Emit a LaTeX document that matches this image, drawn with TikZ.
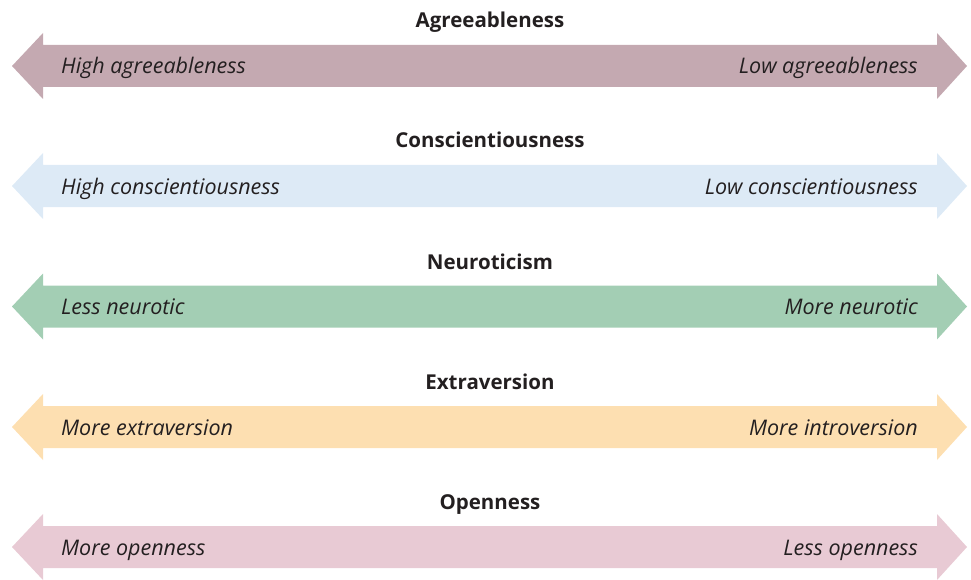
\documentclass[tikz,border=0pt]{standalone}
\usepackage{fontspec}
\setmainfont{Open Sans}
\definecolor{agreec}{HTML}{C4A9B1}
\definecolor{consc}{HTML}{DDEAF6}
\definecolor{neuroc}{HTML}{A3CEB4}
\definecolor{extrac}{HTML}{FDDFB1}
\definecolor{openc}{HTML}{E8CAD4}
\definecolor{txt}{HTML}{231F20}
\tikzset{
  titlelbl/.style={font=\fontsize{20.5}{24}\selectfont\bfseries, text=txt, inner sep=0pt, anchor=base},
  leftlbl/.style={font=\fontsize{21.5}{26}\selectfont\itshape, text=txt, inner sep=0pt, anchor=base west},
  rightlbl/.style={font=\fontsize{21.5}{26}\selectfont\itshape, text=txt, inner sep=0pt, anchor=base east},
}
\newcommand{\twowayarrow}[2]{%
  \fill[#1] (12,#2) -- (43,#2-33) -- (43,#2-21) -- (937,#2-21) -- (937,#2-33) -- (967,#2)
    -- (937,#2+33) -- (937,#2+21) -- (43,#2+21) -- (43,#2+33) -- cycle;}
\begin{document}
\begin{tikzpicture}[x=1pt,y=-1pt]
\useasboundingbox (0,0) rectangle (971,580);
\twowayarrow{agreec}{66}
\twowayarrow{consc}{186}
\twowayarrow{neuroc}{306.5}
\twowayarrow{extrac}{427}
\twowayarrow{openc}{547}
\node[titlelbl] (t1) at (490,28) {Agreeableness};
\node[titlelbl] (t2) at (490,148) {Conscientiousness};
\node[titlelbl] (t3) at (490,269) {Neuroticism};
\node[titlelbl] (t4) at (490,389) {Extraversion};
\node[titlelbl] (t5) at (490,509) {Openness};
\node[leftlbl] (l1) at (61,74) {High agreeableness};
\node[rightlbl] (r1) at (918,74) {Low agreeableness};
\node[leftlbl] (l2) at (61,194) {High conscientiousness};
\node[rightlbl] (r2) at (918,194) {Low conscientiousness};
\node[leftlbl] (l3) at (61,314) {Less neurotic};
\node[rightlbl] (r3) at (918,314) {More neurotic};
\node[leftlbl] (l4) at (61,435) {More extraversion};
\node[rightlbl] (r4) at (918,435) {More introversion};
\node[leftlbl] (l5) at (61,555) {More openness};
\node[rightlbl] (r5) at (918,555) {Less openness};
\end{tikzpicture}
\end{document}
